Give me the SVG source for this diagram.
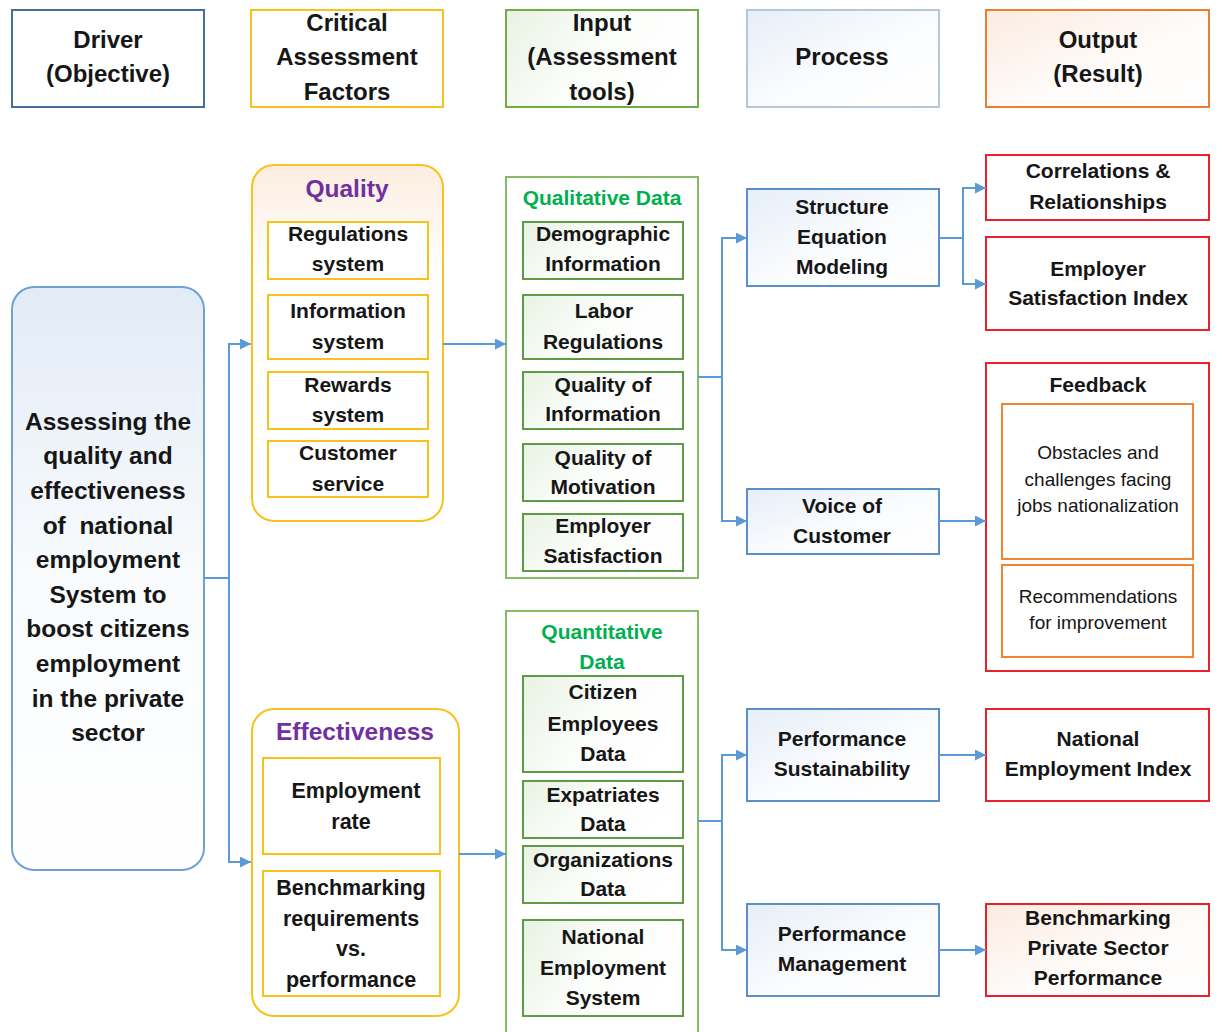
<svg xmlns="http://www.w3.org/2000/svg" width="1225" height="1032" viewBox="0 0 1225 1032">
<style>
.t{font-family:"Liberation Sans",Arial,sans-serif;font-weight:bold;fill:#161616;text-anchor:middle;font-size:21px}
.h{font-size:24px}
.big{font-size:24.5px}
.pur{fill:#7030a0;font-size:24.5px}
.grn{fill:#00b050;font-size:21px}
.reg{font-weight:normal;font-size:19px}
.conn{fill:none;stroke:#5b9bd5;stroke-width:2}
.gold{stroke:#f7c21a;stroke-width:2}
.gbox{stroke:#88bb66;stroke-width:2;fill:#fff}
.gsub{stroke:#5f9a45;stroke-width:2;fill:url(#gGreen)}
.pbox{stroke:#5a8fc8;stroke-width:2;fill:url(#gBlue)}
.rbox{stroke:#e8202a;stroke-width:2;fill:#fff}
.obox{stroke:#f4852e;stroke-width:2;fill:#fff}
</style>
<defs>
<linearGradient id="gBlue" x1="0" y1="0" x2="1" y2="1"><stop offset="0" stop-color="#e6eef7"/><stop offset="0.55" stop-color="#fbfcfe"/><stop offset="1" stop-color="#ffffff"/></linearGradient>
<linearGradient id="gGreen" x1="0" y1="0" x2="1" y2="0.4"><stop offset="0" stop-color="#e8f2e3"/><stop offset="0.55" stop-color="#fbfdfa"/><stop offset="1" stop-color="#ffffff"/></linearGradient>
<linearGradient id="gPeach" x1="0" y1="0" x2="1" y2="1"><stop offset="0" stop-color="#fbebe0"/><stop offset="0.55" stop-color="#fefbf9"/><stop offset="1" stop-color="#ffffff"/></linearGradient>
<linearGradient id="gPeachV" x1="0" y1="0" x2="0" y2="1"><stop offset="0" stop-color="#fcede0"/><stop offset="0.3" stop-color="#ffffff"/></linearGradient>
<linearGradient id="gBlueV" x1="0" y1="0" x2="0" y2="1"><stop offset="0" stop-color="#e2ebf6"/><stop offset="0.5" stop-color="#f9fbfd"/><stop offset="1" stop-color="#ffffff"/></linearGradient>
<marker id="ah" viewBox="0 0 10 10" refX="10" refY="5" markerWidth="11" markerHeight="11" markerUnits="userSpaceOnUse" orient="auto"><path d="M0,0 L10,5 L0,10 z" fill="#5b9bd5"/></marker>
</defs>
<rect width="1225" height="1032" fill="#fff"/>

<g id="hdr-driver"><rect x="12" y="10" width="192" height="97" fill="#fff" stroke="#44709d" stroke-width="2"/>
<text class="t h" x="108" y="48">Driver</text><text class="t h" x="108" y="82">(Objective)</text></g>
<g id="hdr-critical"><rect x="251" y="10" width="192" height="97" fill="#fff" stroke="#f7c21a" stroke-width="2"/>
<text class="t h" x="347" y="31">Critical</text><text class="t h" x="347" y="65">Assessment</text><text class="t h" x="347" y="100">Factors</text></g>
<g id="hdr-input"><rect x="506" y="10" width="192" height="97" fill="url(#gGreen)" stroke="#70ad47" stroke-width="2"/>
<text class="t h" x="602" y="31">Input</text><text class="t h" x="602" y="65">(Assessment</text><text class="t h" x="602" y="100">tools)</text></g>
<g id="hdr-process"><rect x="747" y="10" width="192" height="97" fill="url(#gBlue)" stroke="#b4c8dc" stroke-width="2"/>
<text class="t h" x="842" y="65">Process</text></g>
<g id="hdr-output"><rect x="986" y="10" width="223" height="97" fill="url(#gPeach)" stroke="#ed7d31" stroke-width="2"/>
<text class="t h" x="1098" y="48">Output</text><text class="t h" x="1098" y="82">(Result)</text></g>

<g id="driver"><rect x="12" y="287" width="192" height="583" rx="22" fill="url(#gBlueV)" stroke="#6fa0d6" stroke-width="2"/>
<text class="t big" x="108" y="430">Assessing the</text>
<text class="t big" x="108" y="464">quality and</text>
<text class="t big" x="108" y="499">effectiveness</text>
<text class="t big" x="108" y="534" xml:space="preserve">of  national</text>
<text class="t big" x="108" y="568">employment</text>
<text class="t big" x="108" y="603">System to</text>
<text class="t big" x="108" y="637">boost citizens</text>
<text class="t big" x="108" y="672">employment</text>
<text class="t big" x="108" y="707">in the private</text>
<text class="t big" x="108" y="741">sector</text></g>

<g id="quality"><rect x="252" y="165" width="191" height="356" rx="22" fill="url(#gPeachV)" class="gold"/>
<text class="t pur" x="347" y="197">Quality</text>
<rect x="268" y="222" width="160" height="57" fill="#fff" class="gold"/>
<text class="t" x="348" y="241">Regulations</text><text class="t" x="348" y="271">system</text>
<rect x="268" y="295" width="160" height="64" fill="#fff" class="gold"/>
<text class="t" x="348" y="318">Information</text><text class="t" x="348" y="349">system</text>
<rect x="268" y="372" width="160" height="57" fill="#fff" class="gold"/>
<text class="t" x="348" y="392">Rewards</text><text class="t" x="348" y="422">system</text>
<rect x="268" y="441" width="160" height="56" fill="#fff" class="gold"/>
<text class="t" x="348" y="460">Customer</text><text class="t" x="348" y="491">service</text></g>

<g id="effectiveness"><rect x="252" y="709" width="207" height="307" rx="22" fill="#fff" class="gold"/>
<text class="t pur" x="355" y="740">Effectiveness</text>
<rect x="263" y="758" width="177" height="96" fill="#fff" class="gold"/>
<text class="t" x="356" y="798" style="font-size:21.5px">Employment</text><text class="t" x="351" y="829" style="font-size:21.5px">rate</text>
<rect x="263" y="871" width="177" height="125" fill="#fff" class="gold"/>
<text class="t" x="351" y="895" style="font-size:21.5px">Benchmarking</text><text class="t" x="351" y="926" style="font-size:21.5px">requirements</text><text class="t" x="351" y="956" style="font-size:21.5px">vs.</text><text class="t" x="351" y="987" style="font-size:21.5px">performance</text></g>

<g id="qualitative"><rect x="506" y="177" width="192" height="401" class="gbox"/>
<text class="t grn" x="602" y="205">Qualitative Data</text>
<rect x="523" y="222" width="160" height="57" class="gsub"/>
<text class="t" x="603" y="241">Demographic</text><text class="t" x="603" y="271">Information</text>
<rect x="523" y="295" width="160" height="64" class="gsub"/>
<text class="t" x="604" y="318">Labor</text><text class="t" x="603" y="349">Regulations</text>
<rect x="523" y="372" width="160" height="57" class="gsub"/>
<text class="t" x="603" y="392">Quality of</text><text class="t" x="603" y="421">Information</text>
<rect x="523" y="444" width="160" height="57" class="gsub"/>
<text class="t" x="603" y="465">Quality of</text><text class="t" x="603" y="494">Motivation</text>
<rect x="523" y="514" width="160" height="57" class="gsub"/>
<text class="t" x="603" y="533">Employer</text><text class="t" x="603" y="563">Satisfaction</text></g>

<g id="quantitative"><rect x="506" y="611" width="192" height="425" class="gbox"/>
<text class="t grn" x="602" y="639">Quantitative</text><text class="t grn" x="602" y="669">Data</text>
<rect x="523" y="676" width="160" height="96" class="gsub"/>
<text class="t" x="603" y="699">Citizen</text><text class="t" x="603" y="731">Employees</text><text class="t" x="603" y="761">Data</text>
<rect x="523" y="781" width="160" height="57" class="gsub"/>
<text class="t" x="603" y="802">Expatriates</text><text class="t" x="603" y="831">Data</text>
<rect x="523" y="846" width="160" height="57" class="gsub"/>
<text class="t" x="603" y="867">Organizations</text><text class="t" x="603" y="896">Data</text>
<rect x="523" y="920" width="160" height="96" class="gsub"/>
<text class="t" x="603" y="944">National</text><text class="t" x="603" y="975">Employment</text><text class="t" x="603" y="1005">System</text></g>

<g id="sem"><rect x="747" y="189" width="192" height="97" class="pbox"/>
<text class="t" x="842" y="214">Structure</text><text class="t" x="842" y="244">Equation</text><text class="t" x="842" y="274">Modeling</text></g>
<g id="voc"><rect x="747" y="489" width="192" height="65" class="pbox"/>
<text class="t" x="842" y="513">Voice of</text><text class="t" x="842" y="543">Customer</text></g>
<g id="perf-sust"><rect x="747" y="709" width="192" height="92" class="pbox"/>
<text class="t" x="842" y="746">Performance</text><text class="t" x="842" y="776">Sustainability</text></g>
<g id="perf-mgmt"><rect x="747" y="904" width="192" height="92" class="pbox"/>
<text class="t" x="842" y="941">Performance</text><text class="t" x="842" y="971">Management</text></g>

<g id="correlations"><rect x="986" y="155" width="223" height="65" class="rbox"/>
<text class="t" x="1098" y="178">Correlations &amp;</text><text class="t" x="1098" y="209">Relationships</text></g>
<g id="esi"><rect x="986" y="237" width="223" height="93" class="rbox"/>
<text class="t" x="1098" y="276">Employer</text><text class="t" x="1098" y="305">Satisfaction Index</text></g>
<g id="feedback"><rect x="986" y="363" width="223" height="308" class="rbox"/>
<text class="t" x="1098" y="392">Feedback</text>
<rect x="1002" y="404" width="191" height="155" class="obox"/>
<text class="t reg" x="1098" y="459">Obstacles and</text><text class="t reg" x="1098" y="486">challenges facing</text><text class="t reg" x="1098" y="512">jobs nationalization</text>
<rect x="1002" y="565" width="191" height="92" class="obox"/>
<text class="t reg" x="1098" y="603">Recommendations</text><text class="t reg" x="1098" y="629">for improvement</text></g>
<g id="nei"><rect x="986" y="709" width="223" height="92" class="rbox"/>
<text class="t" x="1098" y="746">National</text><text class="t" x="1098" y="776">Employment Index</text></g>
<g id="bpsp"><rect x="986" y="904" width="223" height="92" fill="url(#gPeach)" stroke="#e8202a" stroke-width="2"/>
<text class="t" x="1098" y="925">Benchmarking</text><text class="t" x="1098" y="955">Private Sector</text><text class="t" x="1098" y="985">Performance</text></g>

<g id="connectors">
<path class="conn" d="M204,578 H229 V344 H251" marker-end="url(#ah)"/>
<path class="conn" d="M229,578 V862 H251" marker-end="url(#ah)"/>
<path class="conn" d="M443,344 H506" marker-end="url(#ah)"/>
<path class="conn" d="M459,854 H506" marker-end="url(#ah)"/>
<path class="conn" d="M698,377 H722 V238 H747" marker-end="url(#ah)"/>
<path class="conn" d="M722,377 V521 H747" marker-end="url(#ah)"/>
<path class="conn" d="M698,821 H722 V755 H747" marker-end="url(#ah)"/>
<path class="conn" d="M722,821 V950 H747" marker-end="url(#ah)"/>
<path class="conn" d="M939,238 H963 V188 H986" marker-end="url(#ah)"/>
<path class="conn" d="M963,238 V284 H986" marker-end="url(#ah)"/>
<path class="conn" d="M939,521 H986" marker-end="url(#ah)"/>
<path class="conn" d="M939,755 H986" marker-end="url(#ah)"/>
<path class="conn" d="M939,950 H986" marker-end="url(#ah)"/>
</g>
</svg>
